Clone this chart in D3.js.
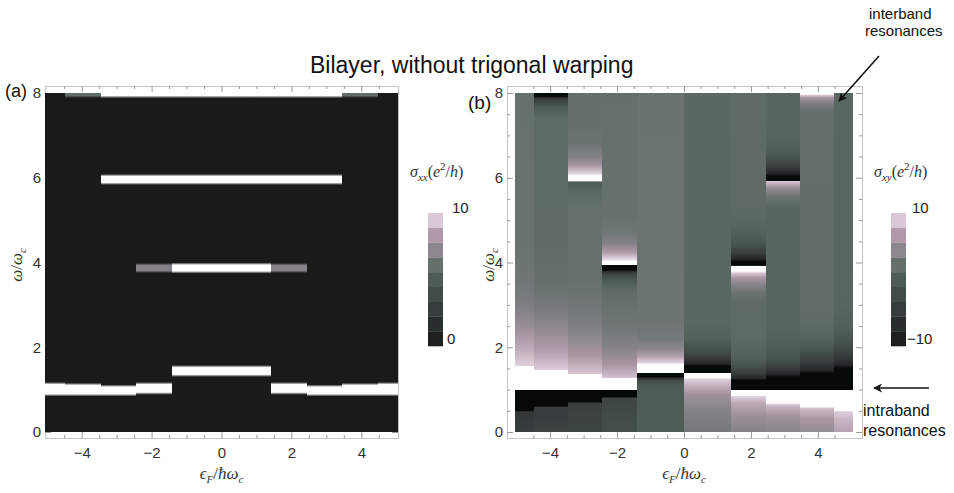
<!DOCTYPE html>
<html>
<head>
<meta charset="utf-8">
<script src="https://cdn.jsdelivr.net/npm/d3@7"></script>
<style>
  body { margin: 0; background: #fff; }
  text { font-family: "Liberation Sans", Arial, sans-serif; }
  .math { font-family: "Liberation Serif", "DejaVu Serif", serif; font-style: italic; }
</style>
</head>
<body>
<svg width="954" height="493"></svg>
<script>
// column edges along eF / hbar wc (Landau level energies)
const edges = [-5.05, -4.47, -3.46, -2.45, -1.41, 0, 1.41, 2.45, 3.46, 4.47, 5.05];
const xMajor = [-4, -2, 0, 2, 4];
const yMajor = [0, 2, 4, 6, 8];

// sigma_xx resonance lines: [column, omega, half width, value e^2/h]
const sxxLines = [
  [0, 1.01, 0.11, 14], [1, 1.0, 0.1, 14], [2, 0.98, 0.08, 14], [3, 1.03, 0.09, 14],
  [4, 1.44, 0.08, 14], [5, 1.44, 0.08, 14],
  [6, 1.03, 0.09, 14], [7, 0.98, 0.08, 14], [8, 1.0, 0.1, 14], [9, 1.01, 0.11, 14],
  [3, 3.87, 0.06, 7], [4, 3.87, 0.07, 14], [5, 3.87, 0.07, 14], [6, 3.87, 0.06, 7],
  [2, 5.96, 0.07, 14], [3, 5.96, 0.07, 14], [4, 5.96, 0.07, 14],
  [5, 5.96, 0.07, 14], [6, 5.96, 0.07, 14], [7, 5.96, 0.07, 14],
  [1, 7.97, 0.03, 6], [2, 8.0, 0.06, 14], [3, 8.0, 0.06, 14], [4, 8.0, 0.06, 14],
  [5, 8.0, 0.06, 14], [6, 8.0, 0.06, 14], [7, 8.0, 0.06, 14], [8, 7.97, 0.03, 6]
];

// sigma_xy profile of each column: [omega, value e^2/h] read from bottom to top
const sxyCols = [
  [[0, -4.4], [0.48, -5.2], [0.5, -12], [1.0, -12], [1.0, 12], [1.56, 12], [1.56, 9.3], [2.0, 7.3],
   [2.5, 5.2], [3.0, 3.6], [3.5, 2.9], [4.5, 2.4], [8, 2.3]],
  [[0, -3.6], [0.58, -4.6], [0.61, -12], [1.0, -12], [1.0, 12], [1.47, 12], [1.47, 9.0], [1.9, 6.8],
   [2.4, 4.8], [2.9, 3.3], [3.5, 2.2], [4.5, 1.7], [7.4, 1.5], [7.65, 0], [7.85, -4], [7.9, -8],
   [7.92, -12], [8, -12]],
  [[0, -3.0], [0.68, -4.0], [0.71, -12], [1.0, -12], [1.0, 12], [1.36, 12], [1.36, 8.8], [1.8, 6.2],
   [2.3, 4.2], [2.8, 3.0], [3.5, 2.3], [5.3, 2.2], [5.7, 1.2], [5.9, 0], [5.93, 12], [6.05, 12],
   [6.1, 9.5], [6.3, 6], [6.5, 3.8], [6.8, 2.6], [7.2, 2.2], [8, 2.2]],
  [[0, -1.8], [0.8, -3.0], [0.83, -12], [1.0, -12], [1.0, 12], [1.27, 12], [1.27, 8.5], [1.6, 6],
   [2.0, 4], [2.5, 2.8], [3.0, 2.3], [3.35, 1.6], [3.6, -0.5], [3.75, -4], [3.8, -8], [3.82, -12],
   [3.93, -12], [3.93, 12], [4.02, 12], [4.08, 9.5], [4.25, 6.5], [4.45, 4], [4.7, 2.8], [5.1, 2.3],
   [8, 2.2]],
  [[0, 0.2], [1.1, -0.2], [1.22, -2.5], [1.28, -7], [1.3, -12], [1.39, -12], [1.39, 12], [1.6, 12],
   [1.63, 9.5], [1.78, 7], [1.95, 4.5], [2.2, 3.1], [2.6, 2.6], [8, 2.5]],
  [[0, 3.0], [0.5, 4.0], [0.9, 5.8], [1.15, 8.2], [1.25, 9.6], [1.28, 12], [1.39, 12], [1.39, -12],
   [1.56, -12], [1.6, -8], [1.72, -5], [1.9, -2], [2.2, 0.5], [2.6, 1.2], [8, 1.3]],
  [[0, 4.0], [0.4, 5.5], [0.7, 7.5], [0.84, 9.5], [0.86, 12], [1.0, 12], [1.0, -12], [1.22, -12],
   [1.26, -8], [1.38, -4.5], [1.55, -1.5], [1.8, 0.8], [2.3, 1.5], [3.1, 1.7], [3.3, 2.6],
   [3.5, 4.3], [3.65, 6.5], [3.75, 8.8], [3.8, 12], [3.92, 12], [3.93, -12], [4.02, -12],
   [4.08, -8], [4.22, -4], [4.45, -1], [4.8, 1], [5.3, 1.6], [8, 1.7]],
  [[0, 4.2], [0.35, 5.5], [0.6, 7.8], [0.66, 9.5], [0.68, 12], [1.0, 12], [1.0, -12], [1.3, -12],
   [1.35, -8], [1.5, -4.5], [1.7, -1.5], [2.0, 0.3], [2.5, 1.0], [5.3, 1.1], [5.55, 2.5],
   [5.75, 5], [5.88, 8], [5.93, 9.5], [5.93, -12], [6.04, -12], [6.1, -8], [6.25, -4.5],
   [6.45, -1.5], [6.7, 0.5], [7.0, 1.0], [8, 1.1]],
  [[0, 5.0], [0.3, 6.2], [0.55, 8.2], [0.6, 12], [1.0, 12], [1.0, -12], [1.39, -12], [1.45, -8],
   [1.65, -4.5], [1.9, -1.5], [2.2, 0.8], [2.7, 1.8], [7.55, 2.0], [7.75, 3.5], [7.88, 6],
   [7.95, 9], [7.97, 12], [8, 12]],
  [[0, 7.0], [0.3, 8], [0.48, 9.2], [0.5, 12], [1.0, 12], [1.0, -12], [1.51, -12], [1.58, -8],
   [1.8, -4.5], [2.1, -1.5], [2.5, 0.5], [3.0, 1.1], [8, 1.2]]
];

// colour bar bands (value at band centre) for sigma_xy; sigma_xx uses 0..10
const cbarXY = [-8.89, -6.67, -4.44, -2.22, 0, 2.22, 4.44, 6.67, 8.89];

const svg = d3.select("svg");
const defs = svg.append("defs");

// GrayTones-like colour function, values beyond the range are clipped to black / white
const cmap = d3.scaleLinear()
  .domain([-10, -8.89, -6.67, -4.44, -2.22, 0, 2.22, 4.44, 6.67, 8.89, 10])
  .range(["#1a1a1a", "#1f1f20", "#2a2d2e", "#373c3c", "#424c47", "#4e5c55",
          "#65706c", "#8c878e", "#b09aa9", "#d9c9d6", "#e6dde4"])
  .clamp(true);
function colXY(v) {
  if (v > 10.5) return "#ffffff";
  if (v < -10.5) return "#050908";
  return cmap(v);
}
function colXX(v) { return colXY(v * 2 - 10); }

defs.append("marker")
  .attr("id", "arrow")
  .attr("viewBox", "0 0 10 10")
  .attr("refX", 9).attr("refY", 5)
  .attr("markerWidth", 9).attr("markerHeight", 9)
  .attr("markerUnits", "userSpaceOnUse")
  .attr("orient", "auto")
  .append("path").attr("d", "M0,0 L10,5 L0,10 L3,5 z").attr("fill", "#111");

function fmt(d) { return d < 0 ? "\u2212" + (-d) : String(d); }

function drawPanel(opt) {
  const x = d3.scaleLinear().domain([-5.05, 5.05]).range(opt.xr);
  const y = d3.scaleLinear().domain([0, 8]).range([432, 93]);
  const g = svg.append("g");
  const fx0 = opt.frame[0], fx1 = opt.frame[1], fy0 = 86, fy1 = 438;

  g.append("rect")
    .attr("x", fx0 + 0.5).attr("y", fy0 + 0.5)
    .attr("width", fx1 - fx0).attr("height", fy1 - fy0)
    .attr("fill", "none").attr("stroke", "#c4c4c4").attr("stroke-width", 1);

  const xMinor = d3.range(-4.5, 5, 0.5).filter(d => d % 2 !== 0);
  const yMinor = d3.range(0.5, 8, 0.5).filter(d => d % 2 !== 0);

  function styleAxis(a) {
    a.select(".domain").remove();
    a.selectAll("line").attr("stroke", "#9a9a9a");
    a.selectAll("text").attr("fill", "#333").attr("font-size", 15)
      .attr("font-family", "Liberation Sans, Arial, sans-serif");
  }

  g.append("g").attr("transform", `translate(0,${fy1})`)
    .call(d3.axisBottom(x).tickValues(xMajor).tickSize(-6).tickPadding(9).tickFormat(fmt))
    .call(styleAxis);
  g.append("g").attr("transform", `translate(0,${fy1})`)
    .call(d3.axisBottom(x).tickValues(xMinor).tickSize(-3).tickFormat(""))
    .call(styleAxis);
  g.append("g").attr("transform", `translate(0,${fy0})`)
    .call(d3.axisTop(x).tickValues(xMajor).tickSize(-6).tickFormat(""))
    .call(styleAxis);
  g.append("g").attr("transform", `translate(0,${fy0})`)
    .call(d3.axisTop(x).tickValues(xMinor).tickSize(-3).tickFormat(""))
    .call(styleAxis);
  g.append("g").attr("transform", `translate(${fx0},0)`)
    .call(d3.axisLeft(y).tickValues(yMajor).tickSize(-6).tickPadding(4).tickFormat(fmt))
    .call(styleAxis);
  g.append("g").attr("transform", `translate(${fx0},0)`)
    .call(d3.axisLeft(y).tickValues(yMinor).tickSize(-3).tickFormat(""))
    .call(styleAxis);
  g.append("g").attr("transform", `translate(${fx1},0)`)
    .call(d3.axisRight(y).tickValues(yMajor).tickSize(-6).tickFormat(""))
    .call(styleAxis);
  g.append("g").attr("transform", `translate(${fx1},0)`)
    .call(d3.axisRight(y).tickValues(yMinor).tickSize(-3).tickFormat(""))
    .call(styleAxis);

  // one vertical gradient per column, drawn on whole pixels so no seams show
  opt.profiles.forEach(function(stops, i) {
    const id = opt.id + "col" + i;
    const grad = defs.append("linearGradient")
      .attr("id", id)
      .attr("gradientUnits", "userSpaceOnUse")
      .attr("x1", 0).attr("x2", 0)
      .attr("y1", y(0)).attr("y2", y(8));
    grad.selectAll("stop")
      .data(stops)
      .join("stop")
      .attr("offset", d => Math.max(0, Math.min(1, d[0] / 8)))
      .attr("stop-color", d => opt.color(d[1]));
    const x0 = Math.round(x(edges[i])), x1 = Math.round(x(edges[i + 1]));
    g.append("rect")
      .attr("x", x0)
      .attr("width", x1 - x0 + (i < opt.profiles.length - 1 ? 1 : 0))
      .attr("y", Math.round(y(8)))
      .attr("height", Math.round(y(0)) - Math.round(y(8)))
      .attr("shape-rendering", "crispEdges")
      .attr("fill", "url(#" + id + ")");
  });

  // axis titles
  const xl = g.append("text").attr("class", "math")
    .attr("x", x(0)).attr("y", 479).attr("text-anchor", "middle")
    .attr("font-size", 17).attr("fill", "#333");
  xl.append("tspan").text("\u03f5");
  xl.append("tspan").attr("font-size", 11).attr("dy", 4).text("F");
  xl.append("tspan").attr("dy", -4).attr("font-style", "normal").text("/");
  xl.append("tspan").text("\u0127\u03c9");
  xl.append("tspan").attr("font-size", 11).attr("dy", 4).text("c");

  const yl = g.append("text").attr("class", "math")
    .attr("transform", `translate(${opt.ylx},265) rotate(-90)`)
    .attr("text-anchor", "middle")
    .attr("font-size", 17).attr("fill", "#333");
  yl.append("tspan").text("\u03c9");
  yl.append("tspan").attr("font-style", "normal").text("/");
  yl.append("tspan").text("\u03c9");
  yl.append("tspan").attr("font-size", 11).attr("dy", 4).text("c");

  g.append("text")
    .attr("x", opt.tag[0]).attr("y", opt.tag[1])
    .attr("font-size", opt.tag[2]).attr("fill", "#111")
    .text(opt.tag[3]);
}

function buildXX() {
  return edges.slice(0, -1).map(function(e, i) {
    const stops = [[0, 0]];
    sxxLines.filter(l => l[0] === i)
      .sort((a, b) => a[1] - b[1])
      .forEach(function(l) {
        stops.push([l[1] - l[2] - 0.06, 0]);
        stops.push([l[1] - l[2], l[3]]);
        stops.push([l[1] + l[2], l[3]]);
        stops.push([l[1] + l[2] + 0.06, 0]);
      });
    stops.push([8, 0]);
    return stops;
  });
}

drawPanel({ id: "a", xr: [45, 398], frame: [45, 398], profiles: buildXX(), color: colXX,
            ylx: 22, tag: [5, 97, 18, "(a)"] });
drawPanel({ id: "b", xr: [515, 853], frame: [507, 862], profiles: sxyCols, color: colXY,
            ylx: 494, tag: [468, 109, 19, "(b)"] });

// colour bars
function colorBar(x0, color, vals, labels, titleX, sub) {
  const cy = d3.scaleBand().domain(d3.range(vals.length)).range([346, 213]);
  svg.append("g").selectAll("rect")
    .data(vals)
    .join("rect")
    .attr("x", x0).attr("width", 15)
    .attr("y", (d, i) => cy(i)).attr("height", cy.bandwidth() + 0.3)
    .attr("fill", d => color(d));
  svg.append("text").attr("x", labels[0][0]).attr("y", 213)
    .attr("font-size", 15).attr("fill", "#222").text(labels[0][1]);
  svg.append("text").attr("x", labels[1][0]).attr("y", 344)
    .attr("font-size", 15).attr("fill", "#222").text(labels[1][1]);

  const t = svg.append("text").attr("class", "math")
    .attr("x", titleX).attr("y", 177).attr("font-size", 16).attr("fill", "#333");
  t.append("tspan").text("\u03c3");
  t.append("tspan").attr("font-size", 11).attr("dy", 4).text(sub);
  t.append("tspan").attr("dy", -4).attr("font-style", "normal").text("(");
  t.append("tspan").text("e");
  t.append("tspan").attr("font-size", 11).attr("dy", -7).attr("font-style", "normal").text("2");
  t.append("tspan").attr("dy", 7).attr("font-style", "normal").text("/");
  t.append("tspan").text("h");
  t.append("tspan").attr("font-style", "normal").text(")");
}
colorBar(428, v => colXX((v + 10) / 2), cbarXY, [[452, "10"], [447, "0"]], 410, "xx");
colorBar(891, colXY, cbarXY, [[912, "10"], [907, "\u221210"]], 874, "xy");

// title and annotations
svg.append("text").attr("x", 310).attr("y", 73)
  .attr("font-size", 23).attr("fill", "#111")
  .text("Bilayer, without trigonal warping");

svg.append("text").attr("x", 869).attr("y", 19).attr("font-size", 15).attr("fill", "#111").text("interband");
svg.append("text").attr("x", 865).attr("y", 36).attr("font-size", 15).attr("fill", "#111").text("resonances");
svg.append("line").attr("x1", 879).attr("y1", 56).attr("x2", 839).attr("y2", 101)
  .attr("stroke", "#111").attr("stroke-width", 1.6).attr("marker-end", "url(#arrow)");

svg.append("line").attr("x1", 929).attr("y1", 388).attr("x2", 874).attr("y2", 388)
  .attr("stroke", "#111").attr("stroke-width", 1.6).attr("marker-end", "url(#arrow)");
svg.append("text").attr("x", 863).attr("y", 416).attr("font-size", 16).attr("fill", "#111").text("intraband");
svg.append("text").attr("x", 863).attr("y", 436).attr("font-size", 16).attr("fill", "#111").text("resonances");
</script>
</body>
</html>
